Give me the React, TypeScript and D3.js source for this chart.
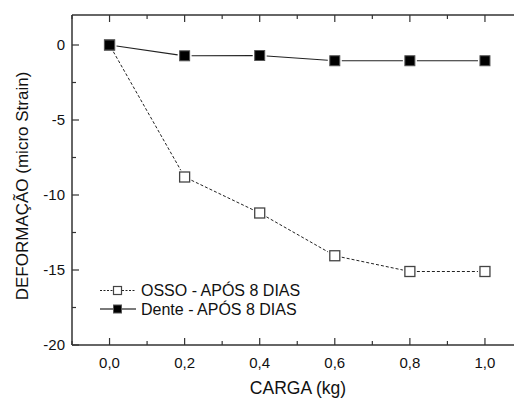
import React from "react";
import * as d3 from "d3";

const cargas = [0.0, 0.2, 0.4, 0.6, 0.8, 1.0];
const osso = [0, -8.8, -11.2, -14.05, -15.1, -15.1];
const dente = [0, -0.72, -0.7, -1.05, -1.05, -1.05];
const xMajorTicks = [0.0, 0.2, 0.4, 0.6, 0.8, 1.0];
const xMinorTicks = [-0.1, 0.1, 0.3, 0.5, 0.7, 0.9, 1.1];
const yMajorTicks = [0, -5, -10, -15, -20];
const yMinorTicks = [-2.5, -7.5, -12.5, -17.5];
const legendLabels = ["OSSO - APÓS 8 DIAS", "Dente - APÓS 8 DIAS"];

const W = 514, H = 398;
const L = 72, T = 15, R = 522.5, B = 345;
const font = "Arial, 'Liberation Sans', sans-serif";

function segs(xs: number[], ys: number[], x: any, y: any, gap: number) {
  const out: { x1: number; y1: number; x2: number; y2: number }[] = [];
  for (let i = 0; i < xs.length - 1; i++) {
    const ax = x(xs[i]), ay = y(ys[i]), bx = x(xs[i + 1]), by = y(ys[i + 1]);
    const dx = bx - ax, dy = by - ay, len = Math.hypot(dx, dy);
    const ux = dx / len, uy = dy / len;
    const t = Math.min(1 / Math.max(Math.abs(ux), 1e-6), 1 / Math.max(Math.abs(uy), 1e-6)) * 5 + gap;
    out.push({ x1: ax + ux * t, y1: ay + uy * t, x2: bx - ux * t, y2: by - uy * t });
  }
  return out;
}

export default function App() {
  const x = d3.scaleLinear().domain([-0.1, 1.1]).range([L, R]);
  const y = d3.scaleLinear().domain([-20, 2]).range([B, T]);
  const axisColor = "#333";
  const ossoSegs = segs(cargas, osso, x, y, 2);
  const denteSegs = segs(cargas, dente, x, y, 2);
  return (
    <svg width={W} height={H} style={{ position: "absolute", left: 0, top: 0, background: "#fff" }} fontFamily={font}>
      <line x1={L} y1={T} x2={L} y2={B} stroke={axisColor} strokeWidth={1.5} />
      <line x1={L} y1={B} x2={W} y2={B} stroke={axisColor} strokeWidth={1.5} />
      <line x1={L} y1={T} x2={W} y2={T} stroke={axisColor} strokeWidth={1.5} />
      {xMajorTicks.map((t) => (
        <g key={"xm" + t}>
          <line x1={x(t)} x2={x(t)} y1={B} y2={B - 7} stroke={axisColor} strokeWidth={1.2} />
          <line x1={x(t)} x2={x(t)} y1={T} y2={T + 7} stroke={axisColor} strokeWidth={1.2} />
          <text x={x(t)} y={368} fontSize={15} textAnchor="middle" fill="#111">
            {d3.format(".1f")(t).replace(".", ",")}
          </text>
        </g>
      ))}
      {xMinorTicks.map((t) => (
        <g key={"xn" + t}>
          <line x1={x(t)} x2={x(t)} y1={B} y2={B - 4} stroke={axisColor} strokeWidth={1.2} />
          <line x1={x(t)} x2={x(t)} y1={T} y2={T + 4} stroke={axisColor} strokeWidth={1.2} />
        </g>
      ))}
      {yMajorTicks.map((t) => (
        <g key={"ym" + t}>
          <line x1={L} x2={L + 7} y1={y(t)} y2={y(t)} stroke={axisColor} strokeWidth={1.2} />
          <text x={65} y={y(t)} dy="0.36em" fontSize={15} textAnchor="end" fill="#111">
            {t}
          </text>
        </g>
      ))}
      {yMinorTicks.map((t) => (
        <line key={"yn" + t} x1={L} x2={L + 4} y1={y(t)} y2={y(t)} stroke={axisColor} strokeWidth={1.2} />
      ))}
      <text x={298} y={393.5} fontSize={17.5} textAnchor="middle" fill="#111">CARGA (kg)</text>
      <text transform={`translate(28,186) rotate(-90)`} fontSize={17} textAnchor="middle" fill="#111">
        DEFORMAÇÃO (micro Strain)
      </text>
      {ossoSegs.map((s, i) => (
        <line key={"os" + i} {...s} stroke="#222" strokeWidth={1} strokeDasharray="3,2" />
      ))}
      {denteSegs.map((s, i) => (
        <line key={"ds" + i} {...s} stroke="#222" strokeWidth={1.2} />
      ))}
      {cargas.map((c, i) => (
        <rect key={"om" + i} x={x(c) - 5} y={y(osso[i]) - 5} width={10} height={10} fill="#fff" stroke="#444" strokeWidth={1.3} />
      ))}
      {cargas.map((c, i) => (
        <rect key={"dm" + i} x={x(c) - 5} y={y(dente[i]) - 5} width={10} height={10} fill="#000" stroke="#555" strokeWidth={1} />
      ))}
      <g>
        <line x1={100} x2={113} y1={290.5} y2={290.5} stroke="#222" strokeWidth={1} strokeDasharray="2,1.5" />
        <line x1={122} x2={136} y1={290.5} y2={290.5} stroke="#222" strokeWidth={1} strokeDasharray="2,1.5" />
        <rect x={113.5} y={286.5} width={8} height={8} fill="#fff" stroke="#444" strokeWidth={1.2} />
        <text x={141} y={296} fontSize={16} fill="#111">{legendLabels[0]}</text>
        <line x1={100} x2={113} y1={309} y2={309} stroke="#222" strokeWidth={1.2} />
        <line x1={122} x2={136} y1={309} y2={309} stroke="#222" strokeWidth={1.2} />
        <rect x={113.5} y={305} width={8} height={8} fill="#000" stroke="#555" strokeWidth={1} />
        <text x={141} y={314.5} fontSize={16} fill="#111">{legendLabels[1]}</text>
      </g>
    </svg>
  );
}
